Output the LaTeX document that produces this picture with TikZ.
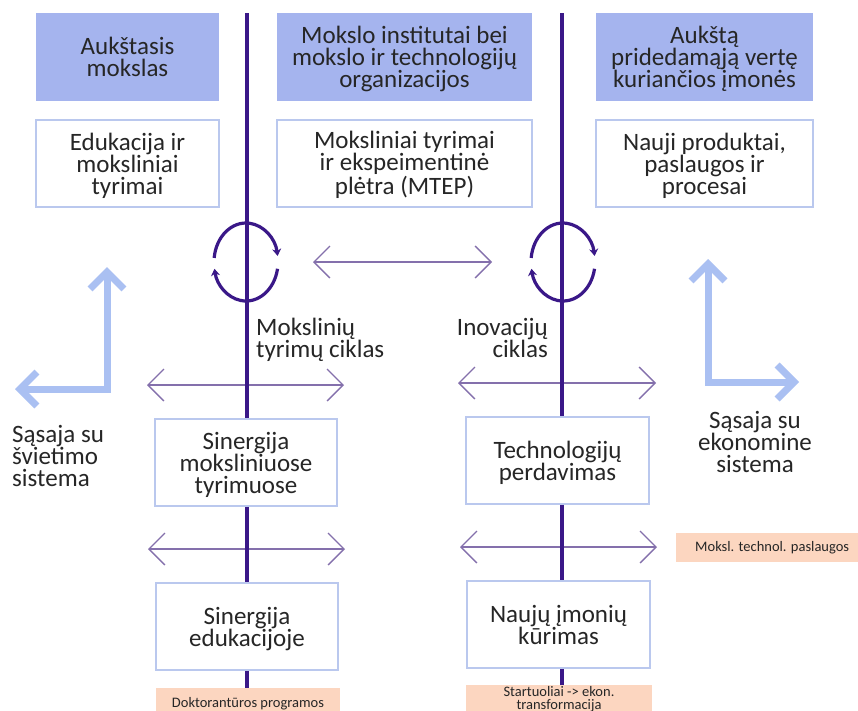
\documentclass[tikz,border=0pt]{standalone}
\usepackage{fontspec}
\setmainfont{Carlito}
\usetikzlibrary{arrows.meta}

\definecolor{headfill}{RGB}{165,180,238}
\definecolor{boxline}{RGB}{186,200,238}
\definecolor{axisc}{RGB}{58,24,136}
\definecolor{linkc}{RGB}{132,112,172}
\definecolor{lblue}{RGB}{170,192,242}
\definecolor{peach}{RGB}{252,214,192}
\definecolor{ink}{RGB}{38,38,38}

\tikzset{
  big/.style={font=\fontsize{25pt}{22pt}\selectfont, text=ink, align=center, inner sep=0pt},
  small/.style={font=\fontsize{14.5pt}{13pt}\selectfont, text=ink, align=center, inner sep=0pt},
  two/.style={text height=45pt, text depth=6pt},
  three/.style={text height=67pt, text depth=6pt},
  head/.style={big, fill=headfill, minimum height=88pt},
  card/.style={big, draw=boxline, line width=1.5pt, fill=white, minimum height=87pt},
  tag/.style={small, fill=peach},
  axisline/.style={draw=axisc, line width=4pt},
  cyc/.style={draw=axisc, line width=3.2pt, -{Stealth[length=7pt,width=9pt]}},
  link/.style={draw=linkc, line width=1.3pt,
    {Straight Barb[length=16pt,width=32pt]}-{Straight Barb[length=16pt,width=32pt]}},
  lshape/.style={draw=lblue, line width=7pt, line join=miter,
    {Straight Barb[length=17pt,width=34pt]}-{Straight Barb[length=17pt,width=34pt]}},
}

\begin{document}
\begin{tikzpicture}[x=1pt,y=-1pt]
\useasboundingbox (0,0) rectangle (858,710);
\fill[white] (0,0) rectangle (858,710);

% ---- header row ----
\node[head, two, minimum width=183pt] (hHE) at (127.5,57) {Aukštasis\\mokslas};
\node[head, three, minimum width=255pt] (hRI) at (404.5,57) {Mokslo institutai bei\\mokslo ir technologijų\\organizacijos};
\node[head, three, minimum width=217pt] (hCO) at (704.5,57) {Aukštą\\pridedamąją vertę\\kuriančios įmonės};

% ---- outcome row ----
\node[card, three, minimum width=183pt] (oEd) at (127.5,163.5) {Edukacija ir\\moksliniai\\tyrimai};
\node[card, three, minimum width=255pt] (oRD) at (404.5,163.5) {Moksliniai tyrimai\\ir ekspeimentinė\\plėtra (MTEP)};
\node[card, three, minimum width=217pt] (oPr) at (704.5,163.5) {Nauji produktai,\\paslaugos ir\\procesai};

% ---- synergy boxes ----
\node[card, three, minimum width=182pt] (synR) at (246,462.5) {Sinergija\\moksliniuose\\tyrimuose};
\node[card, two, minimum width=183pt] (tech) at (557.5,460.5) {Technologijų\\perdavimas};
\node[card, two, minimum width=182pt] (synE) at (247,626.5) {Sinergija\\edukacijoje};
\node[card, two, minimum width=183pt] (newC) at (558.5,624.5) {Naujų įmonių\\kūrimas};

% ---- tags ----
\node[tag, anchor=north, minimum width=184pt, text height=19pt, text depth=20pt] (doct) at (248,688) {Doktorantūros programos};
\node[tag, anchor=north, minimum width=186pt, text height=24pt, text depth=12pt] (start) at (559,685) {Startuoliai -> ekon.\\transformacija};
\node[tag, anchor=west, minimum width=192pt, minimum height=29pt] (serv) at (676,547.5) {Moksl. technol. paslaugos};

% ---- horizontal links ----
\coordinate (t1) at (313,262);  \coordinate (t2) at (492,262);
\coordinate (a1) at (147,385);  \coordinate (a2) at (344,385);
\coordinate (b1) at (458,383);  \coordinate (b2) at (656,383);
\coordinate (c1) at (148,549);  \coordinate (c2) at (345,549);
\coordinate (d1) at (460,547);  \coordinate (d2) at (657,547);
\draw[link] (t1) -- (t2);
\draw[link] (a1) -- (a2);
\draw[link] (b1) -- (b2);
\draw[link] (c1) -- (c2);
\draw[link] (d1) -- (d2);

% ---- vertical axes ----
\coordinate (lTop) at (247,13);
\coordinate (rTop) at (562,13);
\draw[axisline] (lTop) -- (synR.north -| lTop);
\draw[axisline] (synR.south -| lTop) -- (synE.north -| lTop);
\draw[axisline] (synE.south -| lTop) -- (doct.north -| lTop);
\draw[axisline] (rTop) -- (tech.north -| rTop);
\draw[axisline] (tech.south -| rTop) -- (newC.north -| rTop);
\draw[axisline] (newC.south -| rTop) -- (start.north -| rTop);

% ---- cycles ----
\coordinate (cycL) at (246,262);
\coordinate (cycR) at (563,262);
\foreach \c in {cycL,cycR}{
  \draw[cyc] (\c) ++(186:32 and 39) arc[start angle=186, end angle=351, x radius=32, y radius=39];
  \draw[cyc] (\c) ++(10:32 and 39) arc[start angle=10, end angle=170, x radius=32, y radius=39];
}

\node[big, anchor=base west, align=left] (labR) at (256,357) {Mokslinių\\tyrimų ciklas};
\node[big, anchor=base east, align=right] (labI) at (548,357) {Inovacijų\\ciklas};

% ---- interfaces ----
\coordinate (lUp) at (107,267);  \coordinate (lCorner) at (107,389);  \coordinate (lLeft) at (15,389);
\coordinate (rUp) at (708,259);  \coordinate (rCorner) at (708,382);  \coordinate (rRight) at (799,382);
\draw[lshape] (lUp) -- (lCorner) -- (lLeft);
\draw[lshape] (rUp) -- (rCorner) -- (rRight);

\node[big, anchor=base west, align=left] (edu) at (12,486) {Sąsaja su\\švietimo\\sistema};
\node[big, anchor=base] (eco) at (755,472) {Sąsaja su\\ekonomine\\sistema};
\end{tikzpicture}
\end{document}
